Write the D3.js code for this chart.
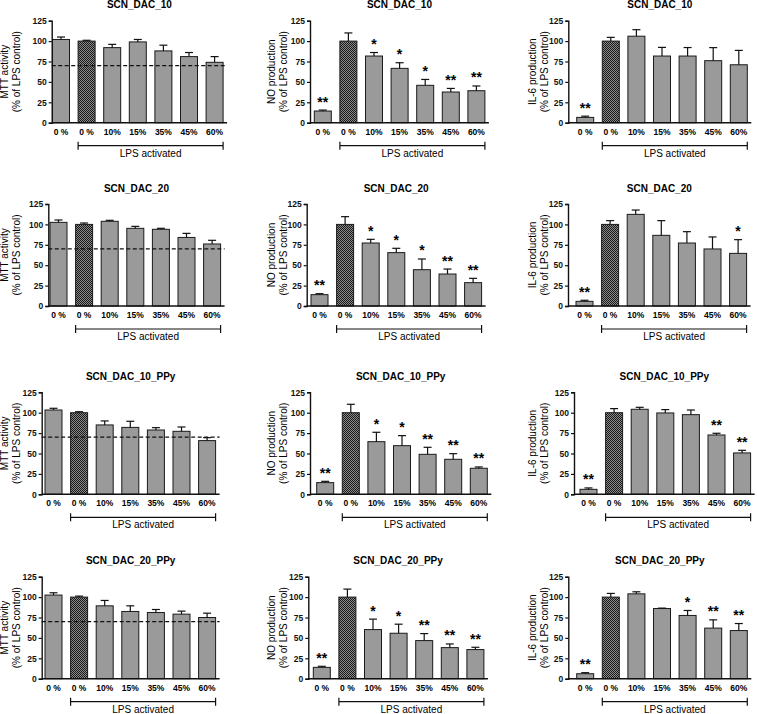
<!DOCTYPE html>
<html>
<head>
<meta charset="utf-8">
<script src="https://cdn.jsdelivr.net/npm/d3@7"></script>
<style>
	body { margin: 0; background: #fff; }
	svg { display: block; font-family: Arial, "Liberation Sans", sans-serif; }
</style>
</head>
<body>
<svg id="chart" width="757" height="714"></svg>
<script>
// categories on the x axis (first 0 % is the unstimulated control)
const categories = ['0 %', '0 %', '10%', '15%', '35%', '45%', '60%'];
const titles = ['SCN_DAC_10', 'SCN_DAC_20', 'SCN_DAC_10_PPy', 'SCN_DAC_20_PPy'];
const yLabels = [
	['MTT activity', '(% of LPS control)'],
	['NO production', '(% of LPS control)'],
	['IL-6 production', '(% of LPS control)'],
];
const yTicks = [0, 25, 50, 75, 100, 125];
const threshold = 70;

// SCN_DAC_10
const mtt10 = [102, 100, 92, 99, 88, 81, 74];
const mtt10Err = [3, 1, 4, 3, 7, 5, 7];
const no10 = [14.3, 100, 81.7, 66.6, 45.8, 37.6, 39.2];
const no10Err = [1.2, 10, 4.3, 6.9, 7.2, 4.4, 5.8];
const no10Sig = ['**', '', '*', '*', '*', '**', '**'];
const il10 = [6.5, 100, 106, 81.7, 81.7, 76, 71];
const il10Err = [1.5, 4.6, 8, 10.6, 10.4, 16, 17.6];
const il10Sig = ['**', '', '', '', '', '', ''];

// SCN_DAC_20
const mtt20 = [102.5, 100, 103.8, 95.2, 94, 84, 76];
const mtt20Err = [2.9, 1.7, 1.2, 2.4, 1.2, 5, 4.5];
const no20 = [13.9, 100, 77.2, 65.4, 44.5, 39.2, 28.6];
const no20Err = [1.2, 9.5, 4.5, 5.3, 13.1, 6.1, 5.3];
const no20Sig = ['**', '', '*', '*', '*', '**', '**'];
const il20 = [5.7, 100, 112.3, 86.6, 77.2, 69.9, 64.5];
const il20Err = [1.3, 4.6, 5.3, 18, 13.9, 14.7, 16.8];
const il20Sig = ['**', '', '', '', '', '', '*'];

// SCN_DAC_10_PPy
const mtt10p = [103.3, 100, 85, 82, 78.8, 77.2, 65.8];
const mtt10pErr = [2.1, 1.2, 4.9, 7.5, 2.9, 5.3, 3.6];
const no10p = [14.3, 100, 64.5, 59.6, 49, 42.9, 31.9];
const no10pErr = [1.6, 10.3, 11.5, 12.3, 8.6, 6.9, 1.6];
const no10pSig = ['**', '', '*', '*', '**', '**', '**'];
const il10p = [6.1, 100, 104.2, 99.7, 97.6, 72.7, 50.7];
const il10pErr = [1.7, 5, 2.4, 4.1, 5.7, 2.1, 3.2];
const il10pSig = ['**', '', '', '', '', '**', '**'];

// SCN_DAC_20_PPy
const mtt20p = [102.5, 100, 89.3, 82.4, 81.1, 79.1, 75];
const mtt20pErr = [2.8, 1.2, 6.6, 6.9, 3.7, 3.7, 5.3];
const no20p = [13.9, 100, 60.2, 55.7, 46.7, 38.1, 35.7];
const no20pErr = [1.3, 9.8, 12.8, 11.1, 8.6, 4.5, 2.8];
const no20pSig = ['**', '', '*', '*', '**', '**', '**'];
const il20p = [6.1, 100, 104, 86, 77.5, 62, 59];
const il20pErr = [1.3, 4.5, 2.5, 0.5, 6.1, 10.1, 8.6];
const il20pSig = ['**', '', '', '', '*', '**', '**'];

const noSig = categories.map(() => '');
const panels = [
	[[mtt10, mtt10Err, noSig], [no10, no10Err, no10Sig], [il10, il10Err, il10Sig]],
	[[mtt20, mtt20Err, noSig], [no20, no20Err, no20Sig], [il20, il20Err, il20Sig]],
	[[mtt10p, mtt10pErr, noSig], [no10p, no10pErr, no10pSig], [il10p, il10pErr, il10pSig]],
	[[mtt20p, mtt20pErr, noSig], [no20p, no20pErr, no20pSig], [il20p, il20pErr, il20pSig]],
];

// layout: y of the 125 tick per row, [y axis x, first bar left] per panel
const rowTop = [20.7, 204, 392.3, 576.7];
const axisPos = [
	[[51.7, 52.5], [310, 314.3], [568.3, 576.7]],
	[[48.3, 50], [306.7, 311], [568, 576]],
	[[41.7, 45], [310, 316.7], [574, 580]],
	[[41.7, 45], [308.3, 313.3], [568.3, 576.7]],
];
const labelX = [[4, 16], [271, 283], [532, 544]];
const plotH = 102;
const step = 25.6;
const padIn = 0.336;

const svg = d3.select('#chart');

// dark checkered fill for the LPS control bar
const pat = svg.append('defs').append('pattern')
	.attr('id', 'check')
	.attr('patternUnits', 'userSpaceOnUse')
	.attr('width', 2).attr('height', 2);
pat.append('rect').attr('width', 2).attr('height', 2).attr('fill', '#8a8a8a');
pat.append('rect').attr('width', 1).attr('height', 1).attr('fill', '#1a1a1a');
pat.append('rect').attr('x', 1).attr('y', 1).attr('width', 1).attr('height', 1).attr('fill', '#1a1a1a');

panels.forEach((row, r) => {
	row.forEach(([vals, errs, sig], c) => {
		const [ax, barLeft] = axisPos[r][c];
		const top = rowTop[r];
		const bottom = top + plotH;
		const start = barLeft - step * padIn / 2;

		const x = d3.scaleBand(d3.range(categories.length), [start, start + step * categories.length])
			.paddingInner(padIn).paddingOuter(padIn / 2);
		const y = d3.scaleLinear([0, 125], [bottom, top]);
		const axEnd = x(6) + x.bandwidth() + 4;

		const g = svg.append('g').attr('class', 'panel');

		g.append('text')
			.attr('x', (ax + axEnd) / 2).attr('y', top - 12.5)
			.attr('text-anchor', 'middle')
			.style('font-weight', 'bold').style('font-size', '10px')
			.text(titles[r]);

		// bars
		g.selectAll('rect.bar').data(vals).join('rect')
			.attr('class', 'bar')
			.attr('x', (d, i) => x(i)).attr('width', x.bandwidth())
			.attr('y', d => y(d)).attr('height', d => y(0) - y(d))
			.attr('fill', (d, i) => i === 1 ? 'url(#check)' : '#9a9a9a')
			.attr('stroke', '#1a1a1a').attr('stroke-width', 1);

		// upper error bars
		const eb = g.selectAll('g.err').data(vals).join('g').attr('class', 'err')
			.attr('stroke', '#111').attr('stroke-width', 1.2);
		eb.append('line')
			.attr('x1', (d, i) => x(i) + x.bandwidth() / 2).attr('x2', (d, i) => x(i) + x.bandwidth() / 2)
			.attr('y1', d => y(d)).attr('y2', (d, i) => y(d + errs[i]));
		eb.append('line')
			.attr('x1', (d, i) => x(i) + x.bandwidth() / 2 - 4).attr('x2', (d, i) => x(i) + x.bandwidth() / 2 + 4)
			.attr('y1', (d, i) => y(d + errs[i])).attr('y2', (d, i) => y(d + errs[i]));

		// significance stars
		g.selectAll('text.sig').data(vals).join('text')
			.attr('class', 'sig')
			.attr('x', (d, i) => x(i) + x.bandwidth() / 2)
			.attr('y', (d, i) => y(d + errs[i]) - 3.5)
			.attr('text-anchor', 'middle')
			.style('font-weight', 'bold').style('font-size', '14px')
			.text((d, i) => sig[i]);

		// 70% viability threshold
		if (c === 0) {
			g.append('line')
				.attr('x1', ax).attr('x2', axEnd)
				.attr('y1', y(threshold)).attr('y2', y(threshold))
				.attr('stroke', '#111').attr('stroke-width', 1.2)
				.attr('stroke-dasharray', '4,2.5');
		}

		// y axis
		const yAxis = g.append('g')
			.attr('transform', `translate(${ax},0)`)
			.call(d3.axisLeft(y).tickValues(yTicks).tickSize(3).tickPadding(2));
		yAxis.select('.domain').attr('stroke', '#111').attr('stroke-width', 1.4);
		yAxis.selectAll('.tick line').attr('stroke', '#111').attr('stroke-width', 1.2);
		yAxis.selectAll('.tick text')
			.style('font-size', '8.5px').style('font-weight', 'bold')
			.style('font-family', 'Arial, "Liberation Sans", sans-serif').attr('fill', '#111');

		// x axis line and labels
		g.append('line')
			.attr('x1', ax).attr('x2', axEnd)
			.attr('y1', bottom).attr('y2', bottom)
			.attr('stroke', '#111').attr('stroke-width', 1.4);
		g.selectAll('text.cat').data(categories).join('text')
			.attr('class', 'cat')
			.attr('x', (d, i) => x(i) + x.bandwidth() / 2)
			.attr('y', bottom + 12)
			.attr('text-anchor', 'middle')
			.style('font-size', '8.5px').style('font-weight', 'bold')
			.text(d => d);

		// LPS activated bracket
		const bx1 = x(1), bx2 = x(6) + x.bandwidth();
		const by = bottom + 23;
		g.append('path')
			.attr('d', `M${bx1},${by - 4}V${by + 4}M${bx1},${by}H${bx2}M${bx2},${by - 4}V${by + 4}`)
			.attr('fill', 'none').attr('stroke', '#111').attr('stroke-width', 1.2);
		g.append('text')
			.attr('x', (bx1 + bx2) / 2).attr('y', by + 11)
			.attr('text-anchor', 'middle')
			.style('font-size', '10px')
			.text('LPS activated');

		// y label, two lines rotated
		const mid = (top + bottom) / 2;
		yLabels[c].forEach((t, k) => {
			g.append('text')
				.attr('transform', `translate(${labelX[c][k] + 4},${mid}) rotate(-90)`)
				.attr('text-anchor', 'middle')
				.style('font-size', '10px')
				.text(t);
		});
	});
});
</script>
</body>
</html>
